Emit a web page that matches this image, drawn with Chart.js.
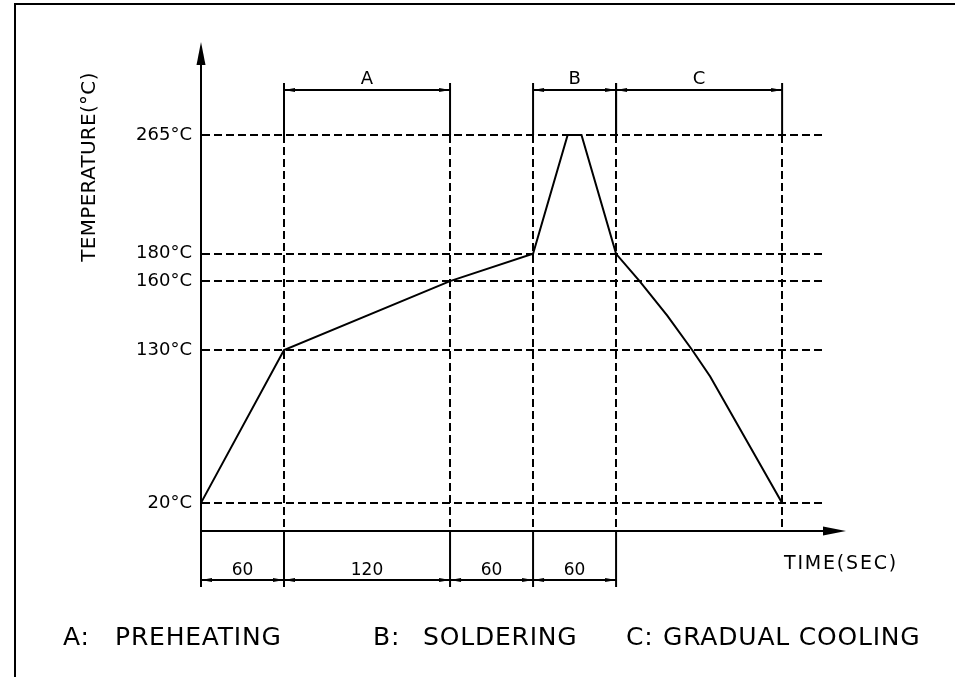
<!DOCTYPE html>
<html>
<head>
<meta charset="utf-8">
<script src="https://cdn.jsdelivr.net/npm/chart.js@4"></script>
<style>
  html, body { margin: 0; padding: 0; background: #fff; }
  canvas { display: block; }
</style>
</head>
<body>
<canvas id="profileChart" width="955" height="677"></canvas>
<script>
/* ================= DATA ================= */

const times = [0, 60, 180, 240, 265, 275, 300, 317, 337, 355, 368, 420];
const temps = [20, 130, 160, 180, 265, 265, 180, 160, 145, 130, 111, 20];

const tempTicks = [20, 130, 160, 180, 265];
const timeMarks = [60, 180, 240, 300, 420];
const dimMarks = [0, 60, 180, 240, 300];

const phaseNames = ["A", "B", "C"];
const phaseStarts = [60, 240, 300];
const phaseEnds = [180, 300, 420];

const legendKeys = ["A:", "B:", "C:"];
const legendNames = ["PREHEATING", "SOLDERING", "GRADUAL COOLING"];

/* ================= SCHEMATIC Y SCALE ================= */
// the drawing is not to scale: value -> fraction of the axis height
const Y_STOPS = [[0, 0], [20, 0.071], [130, 0.457], [160, 0.631], [180, 0.70], [265, 1]];

function toFrac(v) {
  if (v <= Y_STOPS[0][0]) return Y_STOPS[0][1];
  for (let i = 1; i < Y_STOPS.length; i++) {
    const [v0, f0] = Y_STOPS[i - 1];
    const [v1, f1] = Y_STOPS[i];
    if (v <= v1) return f0 + (v - v0) / (v1 - v0) * (f1 - f0);
  }
  return 1;
}

function fromFrac(f) {
  for (let i = 1; i < Y_STOPS.length; i++) {
    const [v0, f0] = Y_STOPS[i - 1];
    const [v1, f1] = Y_STOPS[i];
    if (f <= f1) return v0 + (f - f0) / (f1 - f0) * (v1 - v0);
  }
  return Y_STOPS[Y_STOPS.length - 1][0];
}

class SchematicScale extends Chart.LinearScale {
  getPixelForValue(value) {
    return this.getPixelForDecimal(toFrac(value));
  }
  getValueForPixel(pixel) {
    return fromFrac(this.getDecimalForPixel(pixel));
  }
}
SchematicScale.id = "schematic";
SchematicScale.defaults = Chart.LinearScale.defaults;
Chart.register(SchematicScale);

/* ================= DRAWING EXTRAS ================= */

const FONT = "DejaVu Sans";
const INK = "#000";

function arrowHead(ctx, x, y, dx, dy, len, half) {
  // tip at (x, y), pointing along (dx, dy)
  const bx = x - dx * len, by = y - dy * len;
  ctx.beginPath();
  ctx.moveTo(x, y);
  ctx.lineTo(bx - dy * half, by + dx * half);
  ctx.lineTo(bx + dy * half, by - dx * half);
  ctx.closePath();
  ctx.fill();
}

function line(ctx, x1, y1, x2, y2) {
  ctx.beginPath();
  ctx.moveTo(x1, y1);
  ctx.lineTo(x2, y2);
  ctx.stroke();
}

function dimension(ctx, xa, xb, y) {
  line(ctx, xa, y, xb, y);
  arrowHead(ctx, xa, y, -1, 0, 11, 2);
  arrowHead(ctx, xb, y, 1, 0, 11, 2);
}

const drawingPlugin = {
  id: "drawing",
  afterDraw(chart) {
    const { ctx, chartArea: area, scales: { x } } = chart;
    ctx.save();
    ctx.strokeStyle = INK;
    ctx.fillStyle = INK;
    ctx.lineWidth = 2;

    // frame
    line(ctx, 15, 4, 955, 4);
    line(ctx, 15, 3, 15, 677);

    // axis extensions with arrows
    const x0 = x.getPixelForValue(0);
    line(ctx, x0, area.top, x0, 62);
    arrowHead(ctx, x0, 42, 0, -1, 23, 4.5);
    line(ctx, area.right, area.bottom, 826, area.bottom);
    arrowHead(ctx, 846, area.bottom, 1, 0, 23, 4.5);

    // phase brackets on top
    ctx.font = `18px ${FONT}`;
    ctx.textAlign = "center";
    ctx.textBaseline = "alphabetic";
    phaseNames.forEach((name, i) => {
      const xa = x.getPixelForValue(phaseStarts[i]);
      const xb = x.getPixelForValue(phaseEnds[i]);
      line(ctx, xa, 83, xa, area.top);
      line(ctx, xb, 83, xb, area.top);
      dimension(ctx, xa, xb, 90);
      ctx.fillText(name, (xa + xb) / 2, 84);
    });

    // time dimensions below the axis
    dimMarks.forEach(t => {
      const px = x.getPixelForValue(t);
      line(ctx, px, area.bottom, px, 587);
    });
    ctx.font = `17px ${FONT}`;
    for (let i = 0; i < dimMarks.length - 1; i++) {
      const xa = x.getPixelForValue(dimMarks[i]);
      const xb = x.getPixelForValue(dimMarks[i + 1]);
      dimension(ctx, xa, xb, 580);
      ctx.fillText(String(dimMarks[i + 1] - dimMarks[i]), (xa + xb) / 2, 575);
    }

    // axis titles
    if ("letterSpacing" in ctx) ctx.letterSpacing = "1.8px";
    ctx.font = `19px ${FONT}`;
    ctx.textAlign = "left";
    ctx.fillText("TIME(SEC)", 784, 569);

    if ("letterSpacing" in ctx) ctx.letterSpacing = "0.3px";
    ctx.save();
    ctx.translate(95, 167);
    ctx.rotate(-Math.PI / 2);
    ctx.font = `20px ${FONT}`;
    ctx.textAlign = "center";
    ctx.fillText("TEMPERATURE(°C)", 0, 0);
    ctx.restore();

    // legend line
    if ("letterSpacing" in ctx) ctx.letterSpacing = "0.8px";
    ctx.font = `25px ${FONT}`;
    ctx.textAlign = "left";
    const keyX = [63, 373, 626];
    const nameX = [115, 423, 663];
    legendKeys.forEach((k, i) => {
      ctx.fillText(k, keyX[i], 645);
      ctx.fillText(legendNames[i], nameX[i], 645);
    });

    ctx.restore();
  }
};

/* ================= CHART ================= */

new Chart(document.getElementById("profileChart"), {
  type: "line",
  data: {
    datasets: [{
      data: times.map((t, i) => ({ x: t, y: temps[i] })),
      borderColor: INK,
      borderWidth: 2,
      pointRadius: 0,
      tension: 0,
      fill: false,
      clip: false
    }]
  },
  options: {
    responsive: false,
    animation: false,
    layout: { padding: { top: 135, right: 130, left: 15, bottom: 0 } },
    plugins: {
      legend: { display: false },
      tooltip: { enabled: false }
    },
    scales: {
      x: {
        type: "linear",
        min: 0,
        max: 451,
        afterBuildTicks: s => { s.ticks = timeMarks.map(v => ({ value: v })); },
        afterFit: s => { s.height = 146; },
        ticks: { display: false },
        grid: { color: INK, lineWidth: 2, drawTicks: false },
        border: { color: INK, width: 2, dash: [8, 4] }
      },
      y: {
        type: "schematic",
        min: 0,
        max: 265,
        afterBuildTicks: s => { s.ticks = tempTicks.map(v => ({ value: v })); },
        afterFit: s => { s.width = 186; },
        ticks: {
          color: INK,
          padding: 9,
          font: { family: FONT, size: 18 },
          callback: v => v + "°C"
        },
        grid: { color: INK, lineWidth: 2, drawTicks: false },
        border: { color: INK, width: 2, dash: [8, 4] }
      }
    }
  },
  plugins: [drawingPlugin]
});
</script>
</body>
</html>
